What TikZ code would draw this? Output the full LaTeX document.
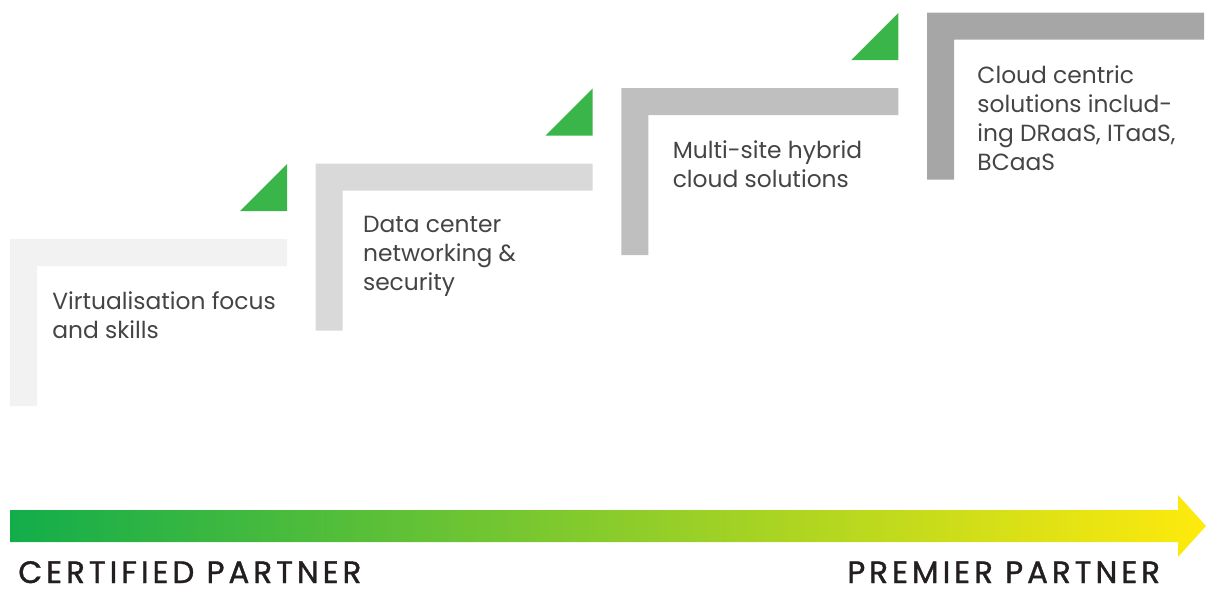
\documentclass[tikz,border=0pt]{standalone}
\usepackage{fontspec}
\setmainfont{Poppins}
\newfontfamily\partnerfont[LetterSpace=13, FakeBold=1.2]{Poppins}
\definecolor{stepA}{HTML}{F2F2F2}
\definecolor{stepB}{HTML}{D9D9D9}
\definecolor{stepC}{HTML}{BFBFBF}
\definecolor{stepD}{HTML}{A6A6A6}
\definecolor{leafgreen}{HTML}{3AB54A}
\definecolor{textgrey}{HTML}{444444}
\definecolor{labelgrey}{HTML}{231F20}
\definecolor{gstart}{HTML}{12AD4B}
\definecolor{gmid}{HTML}{B5D334}
\definecolor{gend}{HTML}{FFEA0C}
\begin{document}
\begin{tikzpicture}[x=0.02cm, y=-0.02cm,
    steptext/.style={anchor=north west, align=left, text=textgrey, inner sep=0pt,
      font=\fontsize{13.3}{16.5}\selectfont},
    partner/.style={anchor=base west, text=labelgrey, inner sep=0pt,
      font=\partnerfont\fontsize{17.6}{20}\selectfont}]
  \useasboundingbox (0,0) rectangle (1206,592);
  % steps
  \foreach \i/\col/\dx/\txt in {
      0/stepA/42/{Virtualisation focus\\and skills},
      1/stepB/47/{Data center\\networking \&\\security},
      2/stepC/51/{Multi-site hybrid\\cloud solutions},
      3/stepD/50/{Cloud centric\\solutions includ-\\ing DRaaS, ITaaS,\\BCaaS}} {
    \fill[\col] ({10+305.7*\i},{239-75.5*\i}) -- ++(277,0) -- ++(0,27)
      -- ++(-250,0) -- ++(0,140) -- ++(-27,0) -- cycle;
    \fill[leafgreen] ({287+305.7*\i},{164-75.5*\i}) -- ++(0,47) -- ++(-47,0) -- cycle;
    \node[steptext] (step\i) at ({10+305.7*\i+\dx},{239-75.5*\i+52.6}) {\txt};
  }
  % arrow
  \shade[left color=gstart, middle color=gmid, right color=gend]
    (10,510) -- (1178,510) -- (1178,495) -- (1206,526) -- (1178,557)
    -- (1178,542) -- (10,542) -- cycle;
  \node[partner] (certified) at (18,583) {CERTIFIED PARTNER};
  \node[partner] (premier) at (847,583) {PREMIER PARTNER};
\end{tikzpicture}
\end{document}
